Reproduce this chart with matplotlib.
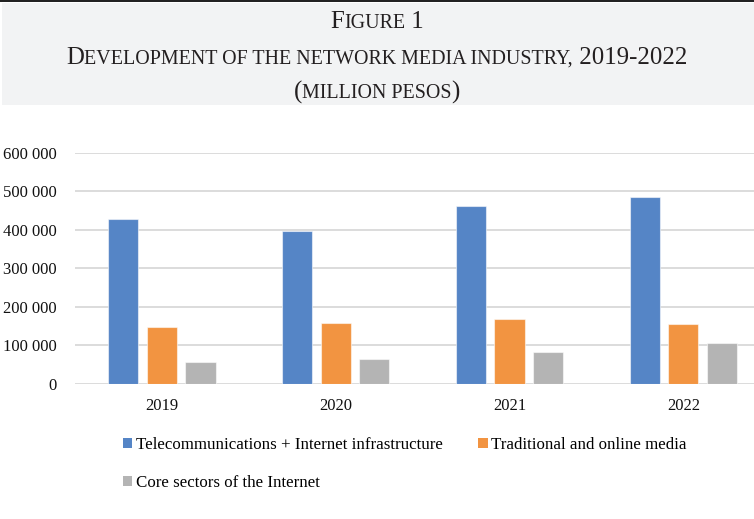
import matplotlib
matplotlib.use("Agg")
import matplotlib.pyplot as plt
import numpy as np
from matplotlib.patches import Rectangle, Patch
from matplotlib.offsetbox import TextArea, HPacker, AnchoredOffsetbox
from matplotlib.ticker import FuncFormatter

years = ["2019", "2020", "2021", "2022"]
series_names = [
    "Telecommunications + Internet infrastructure",
    "Traditional and online media",
    "Core sectors of the Internet",
]
telecom = [428000, 396000, 463000, 485000]
media = [148000, 158000, 169000, 156000]
core = [56000, 64000, 82000, 107000]
colors = ["#5585C6", "#F29441", "#B4B4B4"]

plt.rcParams["font.family"] = ["Liberation Serif", "DejaVu Serif"]

W, H = 754, 519
fig = plt.figure(figsize=(W / 100, H / 100), dpi=100)

# header band with a rule across the top
fig.patches.append(Rectangle((2 / W, 1 - 105 / H), 1, 102 / H,
                             transform=fig.transFigure, facecolor="#F2F3F4",
                             edgecolor="none", zorder=0))
fig.patches.append(Rectangle((0, 1 - 2.2 / H), 1, 2.2 / H,
                             transform=fig.transFigure, facecolor="#222222",
                             edgecolor="none", zorder=1))


def small_caps_line(parts, y_px, big=17.9, small=14.4):
    """Lay out (text, is_big) pieces as small caps centred at a pixel row."""
    boxes = []
    for text, is_big in parts:
        size = big if is_big else small
        boxes.append(TextArea(text.upper(),
                              textprops=dict(fontsize=size, color="#231F20",
                                             family="Liberation Serif")))
    pack = HPacker(children=boxes, align="baseline", pad=0, sep=0)
    box = AnchoredOffsetbox(loc="center", child=pack, pad=0, borderpad=0,
                            frameon=False,
                            bbox_to_anchor=(0.5, 1 - y_px / H),
                            bbox_transform=fig.transFigure)
    fig.add_artist(box)


small_caps_line([("F", True), ("igure", False), (" 1", True)], 22)
small_caps_line([("D", True), ("evelopment of the network media industry,", False),
                 (" 2019-2022", True)], 58)
small_caps_line([("(", True), ("million pesos", False), (")", True)], 92)

# plotting area: categories are ~174 px apart, the last slot runs past the right edge
left_px, bottom_px, top_px = 75, 384, 152.7
slot_px = 173.8
right_px = left_px + 4 * slot_px
ax = fig.add_axes([left_px / W, 1 - bottom_px / H,
                   (right_px - left_px) / W, (bottom_px - top_px) / H])

x = np.arange(len(years))
bar_w = 0.173
offset = 0.222
for i, (vals, col) in enumerate(zip([telecom, media, core], colors)):
    ax.bar(x + (i - 1) * offset, vals, width=bar_w, color=col,
           edgecolor=(1, 1, 1, 0.55), linewidth=0.8, zorder=3,
           label=series_names[i])

ax.set_xlim(-0.5, 3.5)
ax.set_ylim(0, 600000)
ax.set_yticks(np.arange(0, 600001, 100000))
ax.yaxis.set_major_formatter(FuncFormatter(
    lambda v, _: f"{int(v):,}".replace(",", " ")))
ax.set_xticks(x)
ax.set_xticklabels(years)
ax.tick_params(axis="both", length=0, labelsize=12, colors="#111111")
ax.tick_params(axis="y", pad=13)
ax.tick_params(axis="x", pad=10)
ax.grid(axis="y", color="#D9D9D9", linewidth=1.3, zorder=0)
ax.set_axisbelow(True)
for s in ax.spines.values():
    s.set_visible(False)
ax.set_facecolor("none")

# legend filled column by column: first column holds entries 1 and 3
order = [0, 2, 1]
handles = [Patch(facecolor=colors[i], edgecolor="none") for i in order]
labels = [series_names[i] for i in order]
fig.legend(handles, labels, loc="upper left", ncol=2,
           bbox_to_anchor=(122.5 / W, 1 - 437 / H), frameon=False,
           fontsize=12.2, handlelength=0.58, handleheight=0.58,
           handletextpad=0.2, columnspacing=2.1, labelspacing=1.3,
           borderpad=0, borderaxespad=0)

fig.savefig("out.png", dpi=100, facecolor="white")
